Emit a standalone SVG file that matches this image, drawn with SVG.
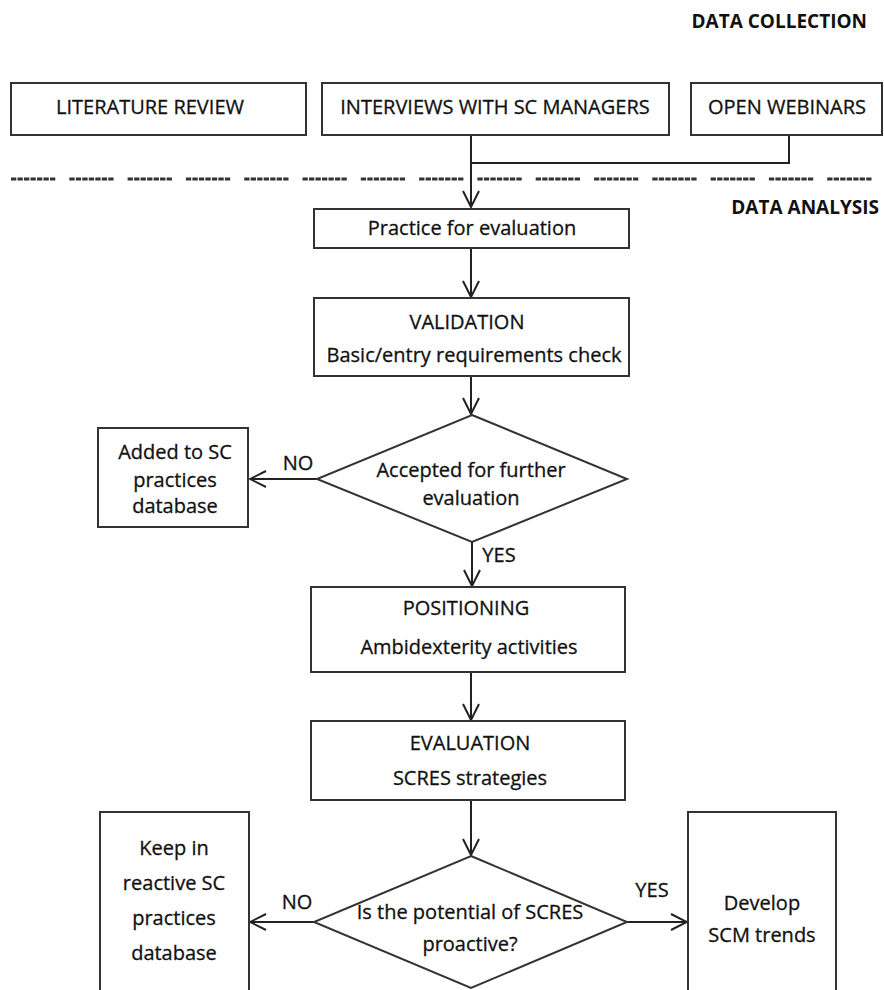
<svg xmlns="http://www.w3.org/2000/svg" width="884" height="990" viewBox="0 0 884 990">
<style>
text{font-family:"Open Sans","Noto Sans","Liberation Sans",sans-serif;font-size:20px;font-weight:500;fill:#111;stroke:#111;stroke-width:0.3;text-anchor:middle}
.h{font-weight:bold;text-anchor:end;font-size:19px;stroke-width:0}
.box{fill:#fff;stroke:#333;stroke-width:2}
.ln{fill:none;stroke:#222;stroke-width:2}
.dash{fill:none;stroke:#333;stroke-width:3;stroke-dasharray:5.3 1.2 5.3 1.2 5.3 1.2 5.3 1.2 5.3 1.2 5.3 1.2 5.3 14}
</style>
<defs>
<marker id="ah" viewBox="0 0 18 18" refX="17" refY="9" markerWidth="18" markerHeight="18" markerUnits="userSpaceOnUse" orient="auto">
<path d="M1,1 L17,9 L1,17" fill="none" stroke="#222" stroke-width="2"/>
</marker>
</defs>
<rect width="884" height="990" fill="#fff"/>
<g id="labels">
<text class="h" x="867" y="28">DATA COLLECTION</text>
<text class="h" x="879" y="214">DATA ANALYSIS</text>
</g>
<line class="dash" x1="11" y1="179" x2="878" y2="179"/>
<g id="connectors">
<path class="ln" d="M471,135 V207" marker-end="url(#ah)"/>
<path class="ln" d="M789,135 V163 H471"/>
<path class="ln" d="M471,248 V297" marker-end="url(#ah)"/>
<path class="ln" d="M471,376 V414" marker-end="url(#ah)"/>
<path class="ln" d="M317,479 H250" marker-end="url(#ah)"/>
<path class="ln" d="M472,542 V586" marker-end="url(#ah)"/>
<path class="ln" d="M471,672 V720" marker-end="url(#ah)"/>
<path class="ln" d="M471,800 V855" marker-end="url(#ah)"/>
<path class="ln" d="M314,922 H250" marker-end="url(#ah)"/>
<path class="ln" d="M627,922 H687" marker-end="url(#ah)"/>
<text x="298" y="470">NO</text>
<text x="499" y="562">YES</text>
<text x="297" y="909">NO</text>
<text x="652" y="897">YES</text>
</g>
<g id="n-lit"><rect class="box" x="11" y="83" width="295" height="52"/><text x="150" y="114">LITERATURE REVIEW</text></g>
<g id="n-int"><rect class="box" x="322" y="83" width="347" height="52"/><text x="495" y="114">INTERVIEWS WITH SC MANAGERS</text></g>
<g id="n-web"><rect class="box" x="691" y="83" width="191" height="52"/><text x="787" y="114">OPEN WEBINARS</text></g>
<g id="n-practice"><rect class="box" x="314" y="209" width="315" height="39"/><text x="472" y="235">Practice for evaluation</text></g>
<g id="n-validation"><rect class="box" x="314" y="298" width="315" height="78"/><text x="467" y="329">VALIDATION</text><text x="474" y="362">Basic/entry requirements check</text></g>
<g id="n-accepted"><polygon class="box" points="472,415 627,479 472,542 317,479"/><text x="471" y="477">Accepted for further</text><text x="471" y="505">evaluation</text></g>
<g id="n-added"><rect class="box" x="98" y="428" width="150" height="99"/><text x="175" y="459">Added to SC</text><text x="175" y="487">practices</text><text x="175" y="513">database</text></g>
<g id="n-positioning"><rect class="box" x="311" y="587" width="314" height="85"/><text x="466" y="615">POSITIONING</text><text x="469" y="654">Ambidexterity activities</text></g>
<g id="n-evaluation"><rect class="box" x="311" y="721" width="314" height="79"/><text x="470" y="750">EVALUATION</text><text x="470" y="785">SCRES strategies</text></g>
<g id="n-proactive"><polygon class="box" points="471,856 627,922 471,988 314,922"/><text x="470" y="919">Is the potential of SCRES</text><text x="470" y="951">proactive?</text></g>
<g id="n-keep"><path class="box" d="M100,1000 V812 H249 V1000"/><text x="174" y="855">Keep in</text><text x="174" y="890">reactive SC</text><text x="174" y="925">practices</text><text x="174" y="960">database</text></g>
<g id="n-develop"><path class="box" d="M688,1000 V812 H836 V1000"/><text x="762" y="910">Develop</text><text x="762" y="942">SCM trends</text></g>
</svg>
